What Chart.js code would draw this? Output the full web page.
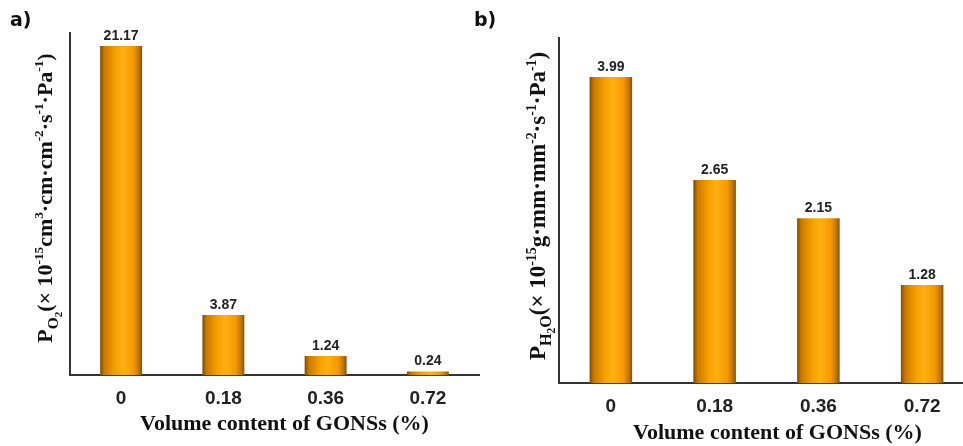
<!DOCTYPE html>
<html>
<head>
<meta charset="utf-8">
<script src="https://cdn.jsdelivr.net/npm/chart.js@4.4.1/dist/chart.umd.min.js"></script>
<style>
html, body { margin: 0; padding: 0; background: #fff; overflow: hidden; width: 963px; height: 446px; }
.panel { position: absolute; top: 0; height: 446px; }
#wrapA { left: 0; width: 480px; }
#wrapB { left: 480px; width: 500px; }
.tag { position: absolute; top: 8px; font: bold 19px "DejaVu Sans", Verdana, sans-serif; color: #111; z-index: 2; }
</style>
</head>
<body>
<div class="panel" id="wrapA"><canvas id="chartA"></canvas></div>
<div class="panel" id="wrapB"><canvas id="chartB"></canvas></div>
<div class="tag" style="left:10px">a)</div>
<div class="tag" style="left:474px">b)</div>
<script>
const categories = ["0", "0.18", "0.36", "0.72"]
const o2Values = [21.17, 3.87, 1.24, 0.24]
const h2oValues = [3.99, 2.65, 2.15, 1.28]
const xTitle = "Volume content of GONSs (%)"

// axis title pieces: [text, kind]  kind: m = main, sub, sup
const o2Title = [["P", "m"], ["O", "sub"], ["2", "sub2"], ["(", "m"], ["× 10", "m"], ["-15", "sup"],
    ["cm", "m"], ["3", "sup"], ["·cm·cm", "m"], ["-2", "sup"], ["·s", "m"], ["-1", "sup"],
    ["·Pa", "m"], ["-1", "sup"], [")", "m"]]
const h2oTitle = [["P", "m"], ["H", "sub"], ["2", "sub2"], ["O", "sub"], ["(", "m"], ["× 10", "m"], ["-15", "sup"],
    ["g·mm·mm", "m"], ["-2", "sup"], ["·s", "m"], ["-1", "sup"], ["·Pa", "m"], ["-1", "sup"], [")", "m"]]

const BAR_PCT = 0.41
const serif = '"Liberation Serif", "Times New Roman", serif'
const sans = '"Liberation Sans", Arial, sans-serif'

function barGradient(c) {
    const chart = c.chart
    const xs = chart.scales.x
    if (!xs || c.type !== "data") return "#f59d00"
    const cx = xs.getPixelForValue(c.dataIndex)
    const half = xs.width / categories.length * BAR_PCT / 2
    if (!isFinite(cx) || !isFinite(half) || half <= 0) return "#f59d00"
    const g = chart.ctx.createLinearGradient(cx - half, 0, cx + half, 0)
    g.addColorStop(0, "#7a4a08")
    g.addColorStop(0.1, "#c97a00")
    g.addColorStop(0.35, "#f79e00")
    g.addColorStop(0.55, "#ffb014")
    g.addColorStop(0.8, "#f59800")
    g.addColorStop(0.93, "#bd7200")
    g.addColorStop(1, "#80520a")
    return g
}

const valueLabels = {
    id: "valueLabels",
    afterDatasetsDraw(chart) {
        const ctx = chart.ctx
        const meta = chart.getDatasetMeta(0)
        const data = chart.data.datasets[0].data
        ctx.save()
        ctx.font = "bold 14px " + sans
        ctx.fillStyle = "#222"
        ctx.textAlign = "center"
        ctx.textBaseline = "alphabetic"
        meta.data.forEach((el, i) => {
            ctx.fillText(data[i].toFixed(2), el.x, el.y - 6)
        })
        ctx.restore()
    },
}

const axisTitles = {
    id: "axisTitles",
    afterDraw(chart, args, opts) {
        const ctx = chart.ctx
        const area = chart.chartArea
        ctx.save()
        ctx.fillStyle = "#111"
        // x title
        ctx.font = "bold 22px " + serif
        ctx.textAlign = "center"
        ctx.textBaseline = "middle"
        ctx.fillText(xTitle, (area.left + area.right) / 2 + opts.xShift, opts.xTitleY)

        // y title, rotated, drawn piece by piece
        const s = opts.ySize
        const sizes = { m: s, sub: s * 0.7, sub2: s * 0.5, sup: s * 0.6 }
        const shifts = { m: 0, sub: s * 0.25, sub2: s * 0.45, sup: -s * 0.4 }
        let total = 0
        opts.yParts.forEach(([t, k]) => {
            ctx.font = "bold " + sizes[k] + "px " + serif
            total += ctx.measureText(t).width
        })
        ctx.translate(opts.yTitleX, opts.yTitleY)
        ctx.rotate(-Math.PI / 2)
        ctx.textAlign = "left"
        ctx.textBaseline = "alphabetic"
        let x = -total / 2
        opts.yParts.forEach(([t, k]) => {
            ctx.font = "bold " + sizes[k] + "px " + serif
            ctx.fillText(t, x, 7 + shifts[k])
            x += ctx.measureText(t).width
        })
        ctx.restore()
    },
}

function makeChart(id, values, yMax, padding, titleOpts) {
    return new Chart(document.getElementById(id), {
        type: "bar",
        data: {
            labels: categories,
            datasets: [
                {
                    data: values,
                    backgroundColor: barGradient,
                    borderWidth: 0,
                    barPercentage: BAR_PCT,
                    categoryPercentage: 1,
                },
            ],
        },
        options: {
            responsive: true,
            maintainAspectRatio: false,
            animation: false,
            layout: { padding: padding },
            plugins: {
                legend: { display: false },
                tooltip: { enabled: false },
                axisTitles: titleOpts,
            },
            scales: {
                x: {
                    offset: true,
                    grid: { display: false },
                    border: { display: true, color: "#333", width: 2 },
                    ticks: {
                        color: "#222",
                        padding: 4,
                        font: { family: sans, size: 19, weight: "bold" },
                    },
                },
                y: {
                    min: 0,
                    max: yMax,
                    grid: { display: false },
                    border: { display: true, color: "#333", width: 2 },
                    ticks: { display: false },
                },
            },
        },
        plugins: [valueLabels, axisTitles],
    })
}

makeChart("chartA", o2Values, 22, { left: 62, top: 33, right: 1, bottom: 32 },
    { xShift: 10, xTitleY: 424, yTitleX: 45, yTitleY: 198, ySize: 22, yParts: o2Title })
makeChart("chartB", h2oValues, 4.5, { left: 71, top: 38, right: 6, bottom: 24 },
    { xShift: 11, xTitleY: 433, yTitleX: 58, yTitleY: 206, ySize: 23, yParts: h2oTitle })
</script>
</body>
</html>
